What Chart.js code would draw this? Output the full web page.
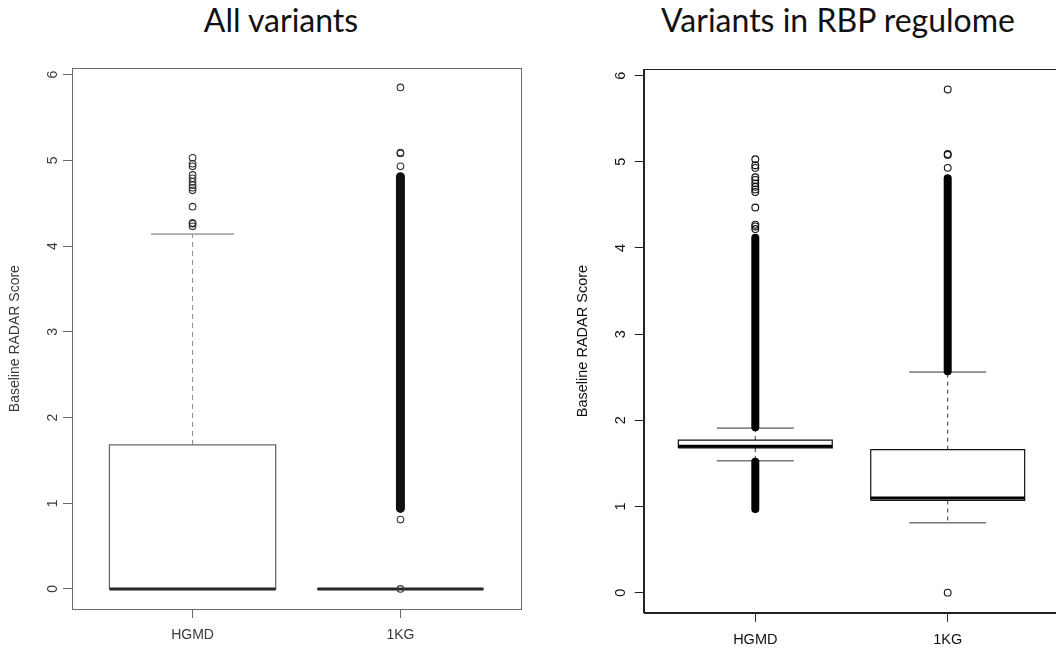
<!DOCTYPE html>
<html>
<head>
<meta charset="utf-8">
<script src="https://cdn.jsdelivr.net/npm/chart.js@4.4.1/dist/chart.umd.min.js"></script>
<style>
  html, body { margin: 0; padding: 0; background: #fff; overflow: hidden; }
  #wrap { position: relative; width: 1056px; height: 652px; overflow: hidden; background: #fff; }
  canvas { position: absolute; top: 0; }
  .ttl { position: absolute; top: 0; font-family: Lato, "Open Sans", sans-serif; font-size: 32px; line-height: 40px; color: #111; white-space: nowrap; transform: translateX(-50%); }
</style>
</head>
<body>
<div id="wrap">
  <div class="ttl" id="t1" style="left:281px;">All variants</div>
  <div class="ttl" id="t2" style="left:838px;">Variants in RBP regulome</div>
  <canvas id="c1" width="528" height="652" style="left:0px;width:528px;height:652px;"></canvas>
  <canvas id="c2" width="532" height="652" style="left:528px;width:532px;height:652px;"></canvas>
</div>
<script>
// ---------------- data ----------------
const categories = ['HGMD', '1KG'];
const yTicks = [0, 1, 2, 3, 4, 5, 6];
const yTitle = 'Baseline RADAR Score';

// Panel 1: All variants
const allQ1 = [0, 0];
const allMedian = [0, 0];
const allQ3 = [1.68, 0];
const allWhiskerLo = [0, 0];
const allWhiskerHi = [4.14, 0];
const allOutliersHGMD = [4.23, 4.26, 4.27, 4.46, 4.65, 4.68, 4.71, 4.75, 4.79, 4.83, 4.93, 4.96, 5.03];
const allOutliers1KG = [0, 0.81, 4.93, 5.08, 5.09, 5.85];
const allDenseHGMD = [];
const allDense1KG = [[0.94, 4.81]];

// Panel 2: Variants in RBP regulome
const rbpQ1 = [1.68, 1.07];
const rbpMedian = [1.70, 1.10];
const rbpQ3 = [1.77, 1.66];
const rbpWhiskerLo = [1.53, 0.81];
const rbpWhiskerHi = [1.91, 2.56];
const rbpOutliersHGMD = [4.22, 4.25, 4.27, 4.47, 4.65, 4.68, 4.71, 4.75, 4.79, 4.82, 4.93, 4.96, 5.03];
const rbpOutliers1KG = [0, 4.93, 5.08, 5.09, 5.84];
const rbpDenseHGMD = [[0.97, 1.52], [1.92, 4.12]];
const rbpDense1KG = [[2.57, 4.81]];

// -------------- helpers --------------
const BOX_HALF = 0.4, STAPLE_HALF = 0.2;

function boxDatasets(i, q1, med, q3, wlo, whi, outliers, dense, st) {
  const x = i + 1;
  const ds = [];
  const line = (pts, extra) => Object.assign({
    type: 'scatter', data: pts, showLine: true, pointRadius: 0, pointHoverRadius: 0,
    borderColor: st.line, borderWidth: 1, fill: false, tension: 0
  }, extra || {});
  // outliers
  ds.push({
    type: 'scatter', order: 0,
    data: outliers.map(v => ({x: x, y: v})),
    pointStyle: 'circle', pointRadius: st.r, pointBorderWidth: 1.1,
    pointBorderColor: st.pt, pointBackgroundColor: 'rgba(0,0,0,0)', showLine: false
  });
  // dense runs of overlapping outliers
  dense.forEach(r => ds.push(line([{x: x, y: r[0]}, {x: x, y: r[1]}],
    {order: 1, borderColor: st.dense, borderWidth: st.denseW, borderCapStyle: 'round'})));
  // median
  ds.push(line([{x: x - BOX_HALF, y: med[i]}, {x: x + BOX_HALF, y: med[i]}],
    {order: 2, borderColor: st.med, borderWidth: 3, borderCapStyle: 'butt'}));
  // box
  if (q3[i] > q1[i]) {
    ds.push(line([
      {x: x - BOX_HALF, y: q1[i]}, {x: x + BOX_HALF, y: q1[i]},
      {x: x + BOX_HALF, y: q3[i]}, {x: x - BOX_HALF, y: q3[i]}, {x: x - BOX_HALF, y: q1[i]}
    ], {order: 3, borderColor: st.box, borderWidth: st.boxW, borderJoinStyle: 'miter'}));
  }
  // whiskers (dashed) and staples
  if (whi[i] > q3[i]) {
    ds.push(line([{x: x, y: q3[i]}, {x: x, y: whi[i]}], {order: 4, borderColor: st.whisk, borderDash: st.dash}));
  }
  if (wlo[i] < q1[i]) {
    ds.push(line([{x: x, y: q1[i]}, {x: x, y: wlo[i]}], {order: 4, borderColor: st.whisk, borderDash: st.dash}));
  }
  ds.push(line([{x: x - STAPLE_HALF, y: whi[i]}, {x: x + STAPLE_HALF, y: whi[i]}], {order: 4, borderColor: st.staple}));
  ds.push(line([{x: x - STAPLE_HALF, y: wlo[i]}, {x: x + STAPLE_HALF, y: wlo[i]}], {order: 4, borderColor: st.staple}));
  return ds;
}

const framePlugin = {
  id: 'frame',
  beforeDatasetsDraw(chart, args, opts) {
    const a = chart.chartArea, c = chart.ctx;
    c.save();
    c.strokeStyle = opts.color; c.lineWidth = opts.width;
    c.strokeRect(Math.round(a.left) + 0.5, Math.round(a.top) + 0.5,
                 Math.round(a.right - a.left), Math.round(a.bottom - a.top));
    c.restore();
  }
};

function makeChart(id, cfg) {
  const datasets = [];
  for (let i = 0; i < categories.length; i++) {
    datasets.push(...boxDatasets(i, cfg.q1, cfg.med, cfg.q3, cfg.wlo, cfg.whi,
      cfg.outliers[i], cfg.dense[i], cfg.st));
  }
  return new Chart(document.getElementById(id), {
    type: 'scatter',
    data: { datasets },
    plugins: [framePlugin],
    options: {
      responsive: false, animation: false, devicePixelRatio: 1,
      layout: { padding: cfg.padding, autoPadding: false },
      plugins: {
        legend: { display: false }, tooltip: { enabled: false },
        frame: { color: cfg.st.frame, width: 1 }
      },
      scales: {
        x: {
          type: 'linear', position: 'bottom', min: 0.42, max: 2.58,
          afterBuildTicks: s => { s.ticks = categories.map((c, k) => ({value: k + 1})); },
          afterFit: s => { s.height = cfg.xHeight; },
          grid: { display: true, drawOnChartArea: false, drawTicks: true, tickLength: 9, color: cfg.st.frame, lineWidth: 1 },
          border: { display: true, color: cfg.st.frame, width: 1 },
          ticks: {
            autoSkip: false, maxRotation: 0, minRotation: 0, padding: cfg.xPad,
            color: cfg.st.text, font: { size: cfg.font },
            callback: v => categories[Math.round(v) - 1]
          }
        },
        y: {
          type: 'linear', position: 'left', min: -0.2336, max: 6.0736,
          afterBuildTicks: s => { s.ticks = yTicks.map(v => ({value: v})); },
          afterFit: s => { s.width = cfg.yWidth; },
          grid: { display: true, drawOnChartArea: false, drawTicks: true, tickLength: 9, color: cfg.st.frame, lineWidth: 1 },
          border: { display: true, color: cfg.st.frame, width: 1 },
          ticks: {
            autoSkip: false, minRotation: 90, maxRotation: 90, crossAlign: 'center',
            padding: cfg.yPad, color: cfg.st.text, font: { size: cfg.font },
            callback: v => String(v)
          },
          title: {
            display: true, text: yTitle, color: cfg.st.text,
            font: { size: cfg.font }, padding: { top: cfg.titlePad, bottom: 0 }
          }
        }
      }
    }
  });
}

Chart.defaults.font.family = '"Liberation Sans", Arial, Helvetica, sans-serif';

makeChart('c1', {
  q1: allQ1, med: allMedian, q3: allQ3, wlo: allWhiskerLo, whi: allWhiskerHi,
  outliers: [allOutliersHGMD, allOutliers1KG], dense: [allDenseHGMD, allDense1KG],
  padding: { top: 68.3, right: 7, bottom: 0, left: 0 },
  xHeight: 43, yWidth: 72, xPad: 9, yPad: 6, titlePad: 6.6, font: 14,
  st: { line: '#555', frame: '#6a6a6a', text: '#3a3a3a', box: '#6a6a6a', boxW: 1.3, med: '#262626',
        whisk: '#8a8a8a', staple: '#6a6a6a', dash: [5, 4], pt: '#333', r: 3.3, dense: '#111', denseW: 9 }
});

makeChart('c2', {
  q1: rbpQ1, med: rbpMedian, q3: rbpQ3, wlo: rbpWhiskerLo, whi: rbpWhiskerHi,
  outliers: [rbpOutliersHGMD, rbpOutliers1KG], dense: [rbpDenseHGMD, rbpDense1KG],
  padding: { top: 69.3, right: 0.7, bottom: 0, left: 0 },
  xHeight: 39.2, yWidth: 115.7, xPad: 9, yPad: 9.7, titlePad: 46.6, font: 14.5,
  st: { line: '#111', frame: '#222', text: '#111', box: '#111', boxW: 1.2, med: '#000',
        whisk: '#333', staple: '#333', dash: [4, 4], pt: '#111', r: 3.4, dense: '#000', denseW: 8 }
});
</script>
</body>
</html>
